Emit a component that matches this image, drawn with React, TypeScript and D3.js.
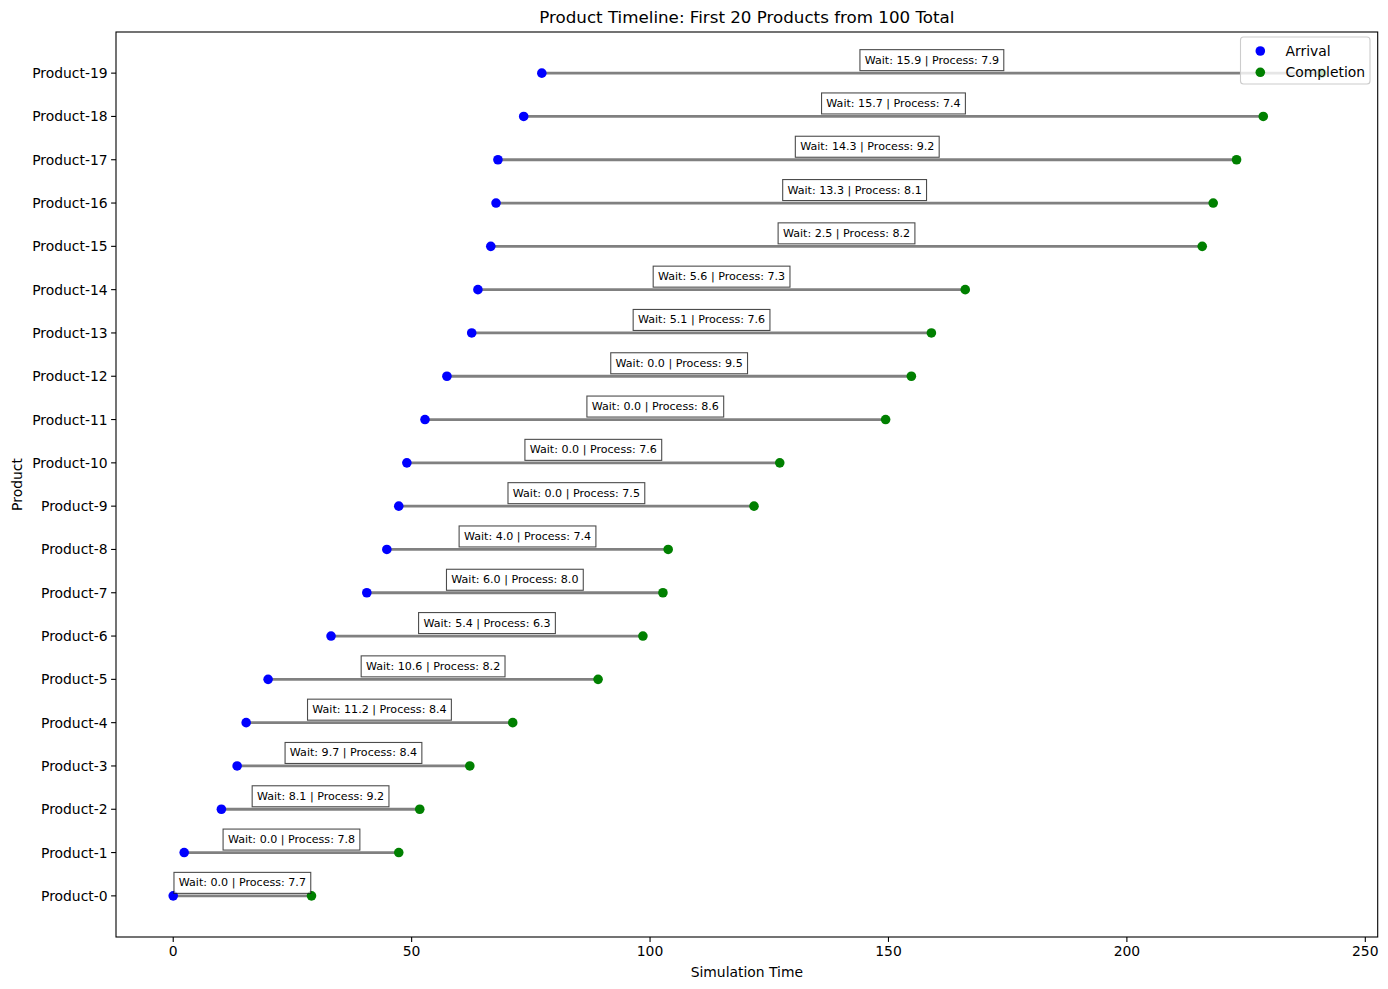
import React, { useEffect, useRef } from "react";
import * as d3 from "d3";

const products = [
  "Product-0", "Product-1", "Product-2", "Product-3", "Product-4",
  "Product-5", "Product-6", "Product-7", "Product-8", "Product-9",
  "Product-10", "Product-11", "Product-12", "Product-13", "Product-14",
  "Product-15", "Product-16", "Product-17", "Product-18", "Product-19",
];
const arrival = [
  0.0, 2.3, 10.1, 13.4, 15.3, 19.9, 33.1, 40.6, 44.8, 47.3,
  49.0, 52.8, 57.4, 62.6, 63.9, 66.6, 67.7, 68.1, 73.5, 77.3,
];
const completion = [
  29.0, 47.3, 51.7, 62.2, 71.2, 89.1, 98.5, 102.7, 103.8, 121.8,
  127.2, 149.4, 154.8, 159.0, 166.1, 215.8, 218.1, 223.0, 228.6, 240.9,
];
const waitTimes = [
  0.0, 0.0, 8.1, 9.7, 11.2, 10.6, 5.4, 6.0, 4.0, 0.0,
  0.0, 0.0, 0.0, 5.1, 5.6, 2.5, 13.3, 14.3, 15.7, 15.9,
];
const processTimes = [
  7.7, 7.8, 9.2, 8.4, 8.4, 8.2, 6.3, 8.0, 7.4, 7.5,
  7.6, 8.6, 9.5, 7.6, 7.3, 8.2, 8.1, 9.2, 7.4, 7.9,
];
const xTicks = [0, 50, 100, 150, 200, 250];

const W = 1388;
const H = 989;
const FONT = "DejaVu Sans, sans-serif";

export default function App() {
  const ref = useRef<SVGSVGElement | null>(null);

  useEffect(() => {
    const svg = d3.select(ref.current);
    svg.selectAll("*").remove();

    const left = 116, right = 1377.7, top = 32, bottom = 937;
    const x = d3.scaleLinear().domain([-12, 252.6]).range([left, right]);
    const y = d3.scaleLinear().domain([-0.95, 19.95]).range([bottom, top]);
    const R = 4.8;

    svg.append("rect").attr("width", W).attr("height", H).attr("fill", "white");

    const g = svg.append("g");
    products.forEach((_, i) => {
      g.append("line")
        .attr("x1", x(arrival[i])).attr("x2", x(completion[i]))
        .attr("y1", y(i)).attr("y2", y(i))
        .attr("stroke", "#808080").attr("stroke-width", 2.8);
    });
    products.forEach((_, i) => {
      g.append("circle").attr("cx", x(arrival[i])).attr("cy", y(i)).attr("r", R).attr("fill", "#0000ff");
    });
    products.forEach((_, i) => {
      g.append("circle").attr("cx", x(completion[i])).attr("cy", y(i)).attr("r", R).attr("fill", "#008000");
    });

    products.forEach((_, i) => {
      const cx = x((arrival[i] + completion[i]) / 2);
      const cy = y(i + 0.3);
      const ag = svg.append("g");
      const rect = ag.append("rect");
      const t = ag.append("text")
        .attr("x", cx).attr("y", cy)
        .attr("text-anchor", "middle").attr("dominant-baseline", "central")
        .attr("font-family", FONT).attr("font-size", 11.1).attr("fill", "#000")
        .text(`Wait: ${waitTimes[i].toFixed(1)} | Process: ${processTimes[i].toFixed(1)}`);
      const w = (t.node() as SVGTextElement).getComputedTextLength();
      const padX = 4.8, h = 21;
      rect.attr("x", cx - w / 2 - padX).attr("y", cy - h / 2)
        .attr("width", w + 2 * padX).attr("height", h)
        .attr("fill", "white").attr("fill-opacity", 0.7)
        .attr("stroke", "#000").attr("stroke-opacity", 0.7).attr("stroke-width", 1.1);
    });

    svg.append("rect").attr("x", left).attr("y", top)
      .attr("width", right - left).attr("height", bottom - top)
      .attr("fill", "none").attr("stroke", "#000").attr("stroke-width", 1.1);

    xTicks.forEach((v) => {
      svg.append("line").attr("x1", x(v)).attr("x2", x(v)).attr("y1", bottom).attr("y2", bottom + 4.9)
        .attr("stroke", "#000").attr("stroke-width", 1.1);
      svg.append("text").attr("x", x(v)).attr("y", bottom + 8.5)
        .attr("text-anchor", "middle").attr("dominant-baseline", "hanging")
        .attr("font-family", FONT).attr("font-size", 13.9).attr("fill", "#000").text(String(v));
    });
    products.forEach((p, i) => {
      svg.append("line").attr("x1", left - 4.9).attr("x2", left).attr("y1", y(i)).attr("y2", y(i))
        .attr("stroke", "#000").attr("stroke-width", 1.1);
      svg.append("text").attr("x", left - 8.4).attr("y", y(i))
        .attr("text-anchor", "end").attr("dominant-baseline", "central")
        .attr("font-family", FONT).attr("font-size", 13.9).attr("fill", "#000").text(p);
    });

    svg.append("text").attr("x", (left + right) / 2).attr("y", 977)
      .attr("text-anchor", "middle")
      .attr("font-family", FONT).attr("font-size", 13.9).attr("fill", "#000").text("Simulation Time");
    svg.append("text").attr("transform", `translate(22,${(top + bottom) / 2}) rotate(-90)`)
      .attr("text-anchor", "middle")
      .attr("font-family", FONT).attr("font-size", 13.9).attr("fill", "#000").text("Product");
    svg.append("text").attr("x", (left + right) / 2).attr("y", 23)
      .attr("text-anchor", "middle")
      .attr("font-family", FONT).attr("font-size", 16.7).attr("fill", "#000")
      .text("Product Timeline: First 20 Products from 100 Total");

    const lg = svg.append("g");
    lg.append("rect").attr("x", 1240.5).attr("y", 37).attr("width", 129.5).attr("height", 47)
      .attr("rx", 3).attr("fill", "white").attr("fill-opacity", 0.8)
      .attr("stroke", "#cccccc").attr("stroke-width", 1.1);
    const items = [
      { label: "Arrival", color: "#0000ff" },
      { label: "Completion", color: "#008000" },
    ];
    items.forEach((it, k) => {
      const yy = 51 + k * 21.3;
      lg.append("circle").attr("cx", 1260.3).attr("cy", yy).attr("r", R).attr("fill", it.color);
      lg.append("text").attr("x", 1285.5).attr("y", yy)
        .attr("dominant-baseline", "central")
        .attr("font-family", FONT).attr("font-size", 13.9).attr("fill", "#000").text(it.label);
    });
  }, []);

  return (
    <svg ref={ref} width={W} height={H} style={{ display: "block", position: "absolute", left: 0, top: 0 }} />
  );
}
